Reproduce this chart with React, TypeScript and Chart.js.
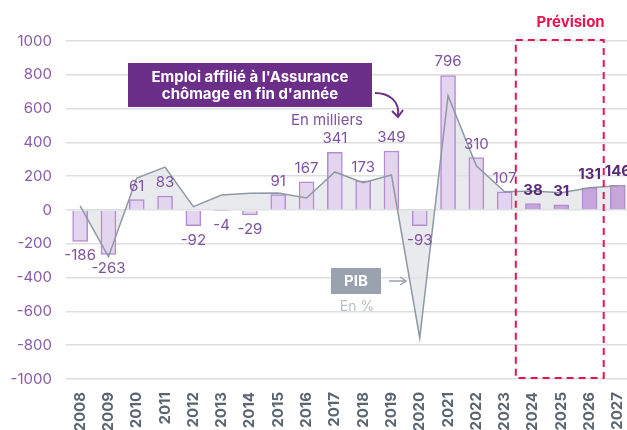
import React, { useEffect, useRef } from 'react';
import { Chart, registerables } from 'chart.js';

Chart.register(...registerables);

const years = ['2008', '2009', '2010', '2011', '2012', '2013', '2014', '2015', '2016', '2017', '2018', '2019', '2020', '2021', '2022', '2023', '2024', '2025', '2026', '2027'];
const emploi = [-186, -263, 61, 83, -92, -4, -29, 91, 167, 341, 173, 349, -93, 796, 310, 107, 38, 31, 131, 146];
// PIB growth (in % × 100, drawn on the same axis)
const pib = [24, -276, 189, 254, 20, 89, 99, 100, 71, 225, 162, 207, -757, 676, 262, 108, 112, 102, 132, 144];
const yTicks = [-1000, -800, -600, -400, -200, 0, 200, 400, 600, 800, 1000];
const firstForecast = 16;

const FONT = 'Inter, "Open Sans", sans-serif';
const PURPLE = '#6b2e89';
const LABEL_PURPLE = '#7f529f';
const CRIMSON = '#e3164f';
const GREY = '#9aa3ad';

const overlayPlugin = {
  id: 'overlay',
  afterDatasetsDraw(chart: any) {
    const ctx = chart.ctx;
    const meta = chart.getDatasetMeta(0);
    ctx.save();
    meta.data.forEach((bar: any, i: number) => {
      const v = emploi[i];
      const fc = i >= firstForecast;
      ctx.font = `${fc ? '700' : '400'} 15px ${FONT}`;
      ctx.fillStyle = fc ? '#5b2a78' : LABEL_PURPLE;
      ctx.textAlign = 'center';
      if (v >= 0) {
        ctx.textBaseline = 'bottom';
        ctx.fillText(String(v), bar.x, bar.y - 6);
      } else {
        ctx.textBaseline = 'top';
        ctx.fillText(String(v), bar.x, bar.y + 7);
      }
    });
    ctx.restore();
  },
  afterDraw(chart: any) {
    const ctx = chart.ctx;
    const xs = chart.scales.x;
    const ys = chart.scales.y;
    ctx.save();

    // Prévision dashed box
    const step = xs.getPixelForValue(1) - xs.getPixelForValue(0);
    const bx0 = xs.getPixelForValue(firstForecast) - step / 2 - 3;
    const bx1 = xs.getPixelForValue(18) + step / 2;
    const by0 = ys.getPixelForValue(1000) - 1;
    const by1 = ys.getPixelForValue(-1000) - 1;
    ctx.strokeStyle = CRIMSON;
    ctx.lineWidth = 2;
    ctx.setLineDash([7, 5]);
    ctx.strokeRect(bx0, by0, bx1 - bx0, by1 - by0);
    ctx.setLineDash([]);
    ctx.fillStyle = CRIMSON;
    ctx.font = `700 15px ${FONT}`;
    ctx.textAlign = 'right';
    ctx.textBaseline = 'middle';
    ctx.fillText('Prévision', bx1 + 1, 22);

    // Emploi annotation box
    ctx.fillStyle = PURPLE;
    ctx.fillRect(128, 63, 244, 44);
    ctx.fillStyle = '#ffffff';
    ctx.font = `700 15px ${FONT}`;
    ctx.textAlign = 'center';
    ctx.textBaseline = 'middle';
    ctx.fillText("Emploi affilié à l'Assurance", 250, 77);
    ctx.fillText("chômage en fin d'année", 250, 94);

    // curved arrow
    ctx.strokeStyle = PURPLE;
    ctx.lineWidth = 2;
    ctx.beginPath();
    ctx.moveTo(375, 93);
    ctx.bezierCurveTo(389, 93, 400, 101, 398, 116);
    ctx.stroke();
    ctx.beginPath();
    ctx.moveTo(392, 111);
    ctx.lineTo(398, 117);
    ctx.lineTo(403, 110);
    ctx.stroke();

    ctx.fillStyle = LABEL_PURPLE;
    ctx.font = `400 15px ${FONT}`;
    ctx.textAlign = 'right';
    ctx.fillText('En milliers', 363, 120);

    // PIB box
    ctx.fillStyle = GREY;
    ctx.fillRect(331, 268, 50, 26);
    ctx.fillStyle = '#ffffff';
    ctx.font = `700 15px ${FONT}`;
    ctx.textAlign = 'center';
    ctx.fillText('PIB', 356, 281);
    ctx.strokeStyle = GREY;
    ctx.lineWidth = 1.5;
    ctx.beginPath();
    ctx.moveTo(389, 281);
    ctx.lineTo(406, 281);
    ctx.moveTo(400, 277);
    ctx.lineTo(406, 281);
    ctx.lineTo(400, 285);
    ctx.stroke();
    ctx.fillStyle = '#b9bfc7';
    ctx.font = `400 14px ${FONT}`;
    ctx.fillText('En %', 357, 307);

    ctx.restore();
  },
};

export default function App() {
  const ref = useRef<HTMLCanvasElement>(null);

  useEffect(() => {
    if (!ref.current) return;
    Chart.defaults.font.family = FONT;
    const chart = new Chart(ref.current, {
      type: 'bar',
      data: {
        labels: years,
        datasets: [
          {
            type: 'bar',
            label: 'Emploi',
            data: emploi,
            backgroundColor: emploi.map((_, i) => (i >= firstForecast ? '#c6a6da' : '#e3d4ef')),
            borderColor: '#b48cd1',
            borderWidth: 1.5,
            barThickness: 15,
            order: 1,
          } as any,
          {
            type: 'line',
            label: 'PIB',
            data: pib,
            borderColor: '#8e99a5',
            borderWidth: 1.5,
            pointRadius: 0,
            tension: 0,
            fill: 'origin',
            backgroundColor: 'rgba(222,225,231,0.7)',
            order: 0,
          } as any,
        ],
      },
      options: {
        responsive: false,
        animation: false,
        layout: { padding: { top: 41, left: 0, right: 0, bottom: 0 } },
        plugins: {
          legend: { display: false },
          tooltip: { enabled: false },
          filler: { drawTime: 'beforeDatasetsDraw' } as any,
        },
        scales: {
          x: {
            grid: { display: false, drawTicks: false },
            border: { display: false },
            ticks: {
              autoSkip: false,
              minRotation: 90,
              maxRotation: 90,
              padding: 13,
              color: '#5b6570',
              font: { size: 15, weight: 'bold', family: FONT },
            },
            afterFit: (s: any) => {
              s.height = 51;
              s.paddingLeft = 0;
              s.paddingRight = 0;
            },
          },
          y: {
            min: -1000,
            max: 1000,
            afterBuildTicks: (s: any) => { s.ticks = yTicks.map((v) => ({ value: v })); },
            grid: { color: '#dedede', lineWidth: 1.5, drawTicks: false },
            border: { display: false },
            ticks: {
              padding: 14,
              color: '#8a5ba8',
              font: { size: 15, family: FONT },
              callback: (v: any) => String(v),
            },
            afterFit: (s: any) => {
              s.width = 66;
              s.paddingTop = 0;
              s.paddingBottom = 0;
            },
          },
        },
      },
      plugins: [overlayPlugin],
    });
    return () => chart.destroy();
  }, []);

  return (
    <div style={{ position: 'absolute', left: 0, top: 0, width: 627, height: 430, overflow: 'hidden', background: '#ffffff' }}>
      <canvas ref={ref} width={632} height={430} style={{ display: 'block' }} />
    </div>
  );
}
